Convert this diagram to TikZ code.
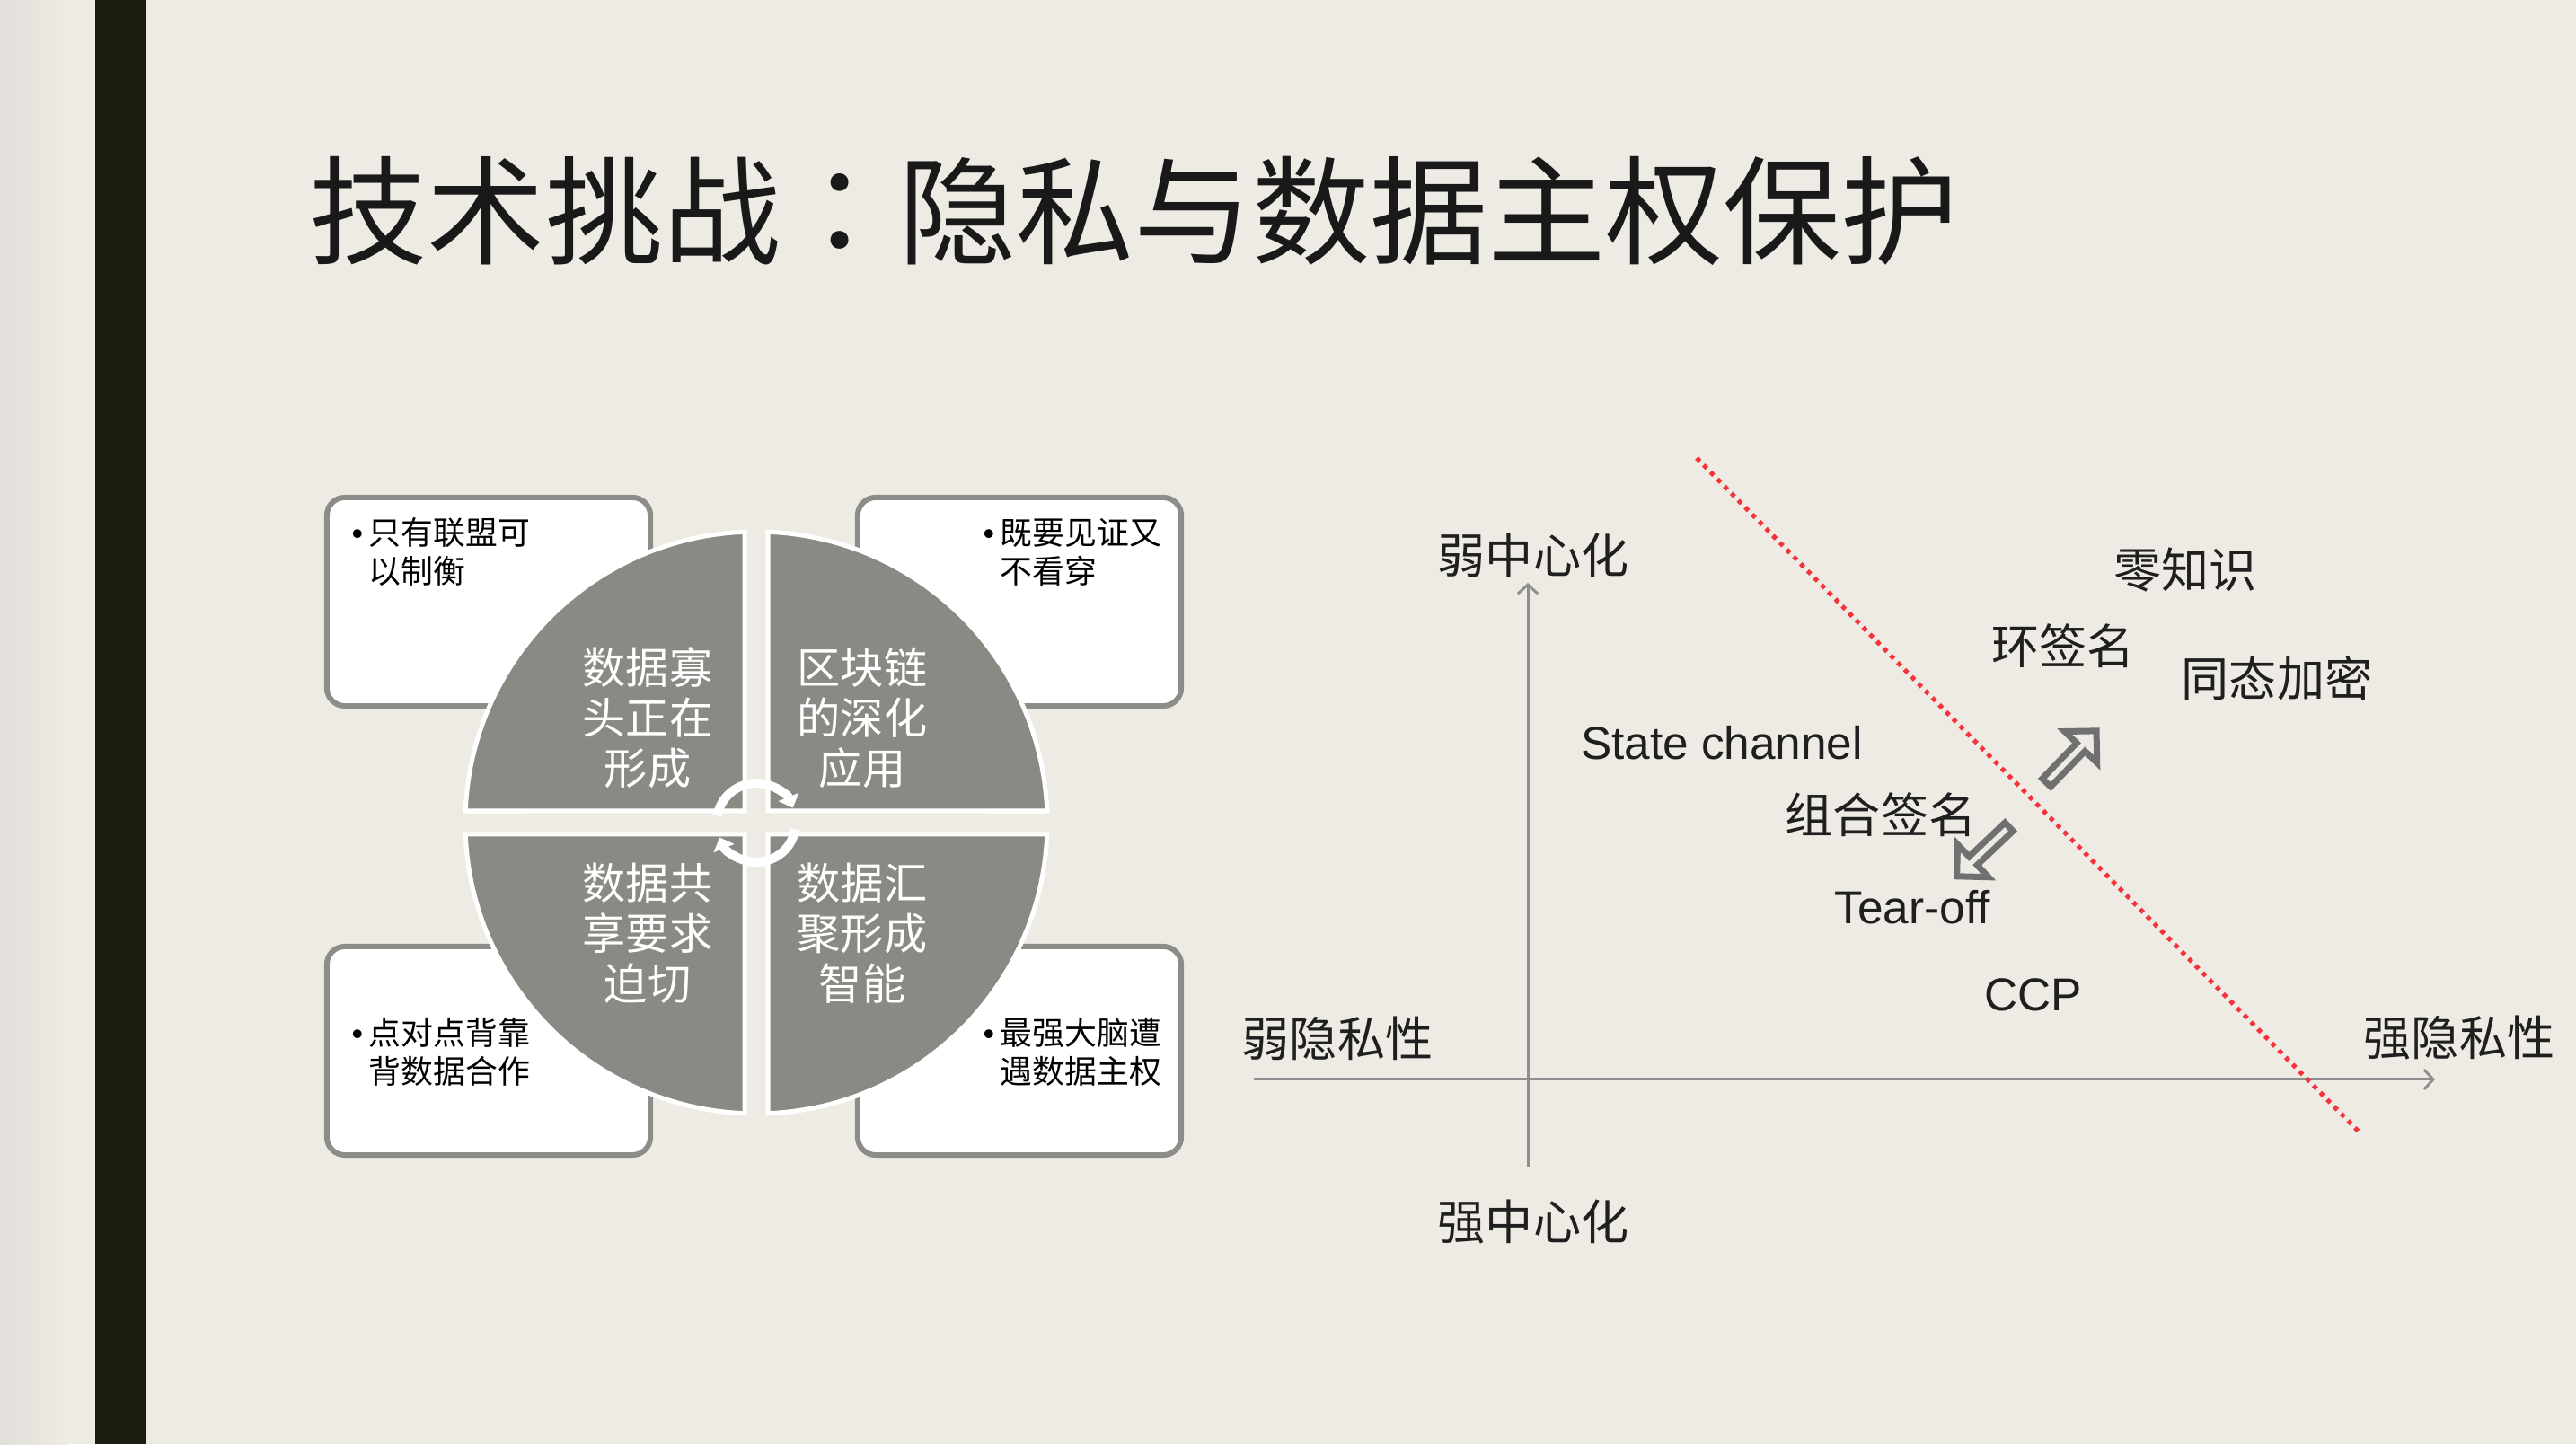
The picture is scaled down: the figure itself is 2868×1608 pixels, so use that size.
\documentclass[tikz,border=0pt]{standalone}
\usepackage{fontspec}
\setmainfont{Liberation Sans}
\newfontfamily\cjk{Noto Sans CJK SC}
\newfontfamily\cjkmid{Noto Sans CJK TC}
\usetikzlibrary{arrows.meta,shapes.arrows}
\definecolor{slidebg}{HTML}{EEEBE4}
\definecolor{edgeshade}{HTML}{E1DFD9}
\definecolor{barblack}{HTML}{1B1C10}
\definecolor{quadgray}{HTML}{8A8A85}
\definecolor{boxgray}{HTML}{8C8C88}
\definecolor{axisgray}{HTML}{8F8F8F}
\definecolor{arrowgray}{HTML}{707070}
\definecolor{dotred}{HTML}{F4333B}
\newcommand{\noteitem}[2]{\begin{tabular}[t]{@{}l@{}l@{}}\makebox[0.19cm][l]{\rmfamily\textbullet}&#1\\&#2\end{tabular}}
\tikzset{
  notebox/.style={draw=boxgray, fill=white, line width=0.06cm, rounded corners=0.2cm,
    minimum width=3.6cm, minimum height=2.32cm, inner sep=0pt},
  quad/.style={fill=quadgray, draw=white, line width=0.05cm},
  quadtext/.style={text=white, align=center, inner sep=0pt, font=\cjk\fontsize{13.7}{15.9}\selectfont},
  notetext/.style={anchor=base west, inner sep=0pt, font=\cjk\fontsize{10.2}{11.4}\selectfont},
  cyclearrow/.style={draw=white, line width=0.1cm, -{Triangle[length=0.13cm,width=0.24cm]}},
  axis/.style={draw=axisgray, line width=0.03cm, -{Straight Barb[length=0.1cm,width=0.22cm]}},
  axislabel/.style={inner sep=0pt, text=black!88, font=\cjk\fontsize{15.1}{17}\selectfont},
  method/.style={inner sep=0pt, text=black!88, font=\fontsize{14.6}{17}\selectfont},
  hollow/.style={single arrow, draw=arrowgray, fill=slidebg, line width=0.07cm,
    minimum height=0.8cm, minimum width=0.5cm, single arrow head extend=0.1cm, inner sep=0pt},
}
\begin{document}
\begin{tikzpicture}[x=0.01cm,y=0.01cm]
  \fill[slidebg] (0,0) rectangle (2868,1608);
  \useasboundingbox (0,0) rectangle (2868,1608);
  \shade[left color=edgeshade, right color=slidebg] (0,0) rectangle (75,1608);
  \fill[barblack] (106,0) rectangle (162,1608);
  \node[anchor=west, inner sep=0pt, text=black!90, font=\cjk\fontsize{37.3}{40}\selectfont] (title) at (344,1373) {技术挑战{\cjkmid ：}隐私与数据主权保护};

  % four notes behind the wheel
  \node[notebox] (tlbox) at (544,938) {};
  \node[notebox] (trbox) at (1135,938) {};
  \node[notebox] (blbox) at (544,438) {};
  \node[notebox] (brbox) at (1135,438) {};
  \node[notetext] (tlnote) at (391,1001) {\noteitem{只有联盟可}{以制衡}};
  \node[notetext] (trnote) at (1094,1001) {\noteitem{既要见证又}{不看穿}};
  \node[notetext] (blnote) at (391,444) {\noteitem{点对点背靠}{背数据合作}};
  \node[notetext] (brnote) at (1094,444) {\noteitem{最强大脑遭}{遇数据主权}};

  % the wheel
  \coordinate (hub) at (842,692);
  \foreach \a/\dx/\dy in {0/1/1, 90/-1/1, 180/-1/-1, 270/1/-1}
    \filldraw[quad] ([shift={(\dx*13,\dy*13)}]hub) -- ([shift={(\a+2.3:324)}]hub)
      arc[start angle=\a+2.3, end angle=\a+87.7, radius=324] -- cycle;
  \draw[cyclearrow] ([shift={(170:44)}]hub) arc[start angle=170, end angle=22, radius=44];
  \draw[cyclearrow] ([shift={(-10:44)}]hub) arc[start angle=-10, end angle=-158, radius=44];
  \node[quadtext] (tlquad) at (721,809) {数据寡\\头正在\\形成};
  \node[quadtext] (trquad) at (960,809) {区块链\\的深化\\应用};
  \node[quadtext] (blquad) at (721,569) {数据共\\享要求\\迫切};
  \node[quadtext] (brquad) at (960,569) {数据汇\\聚形成\\智能};

  % privacy / centralisation plane
  \coordinate (xfrom) at (1396,406);
  \coordinate (xto) at (2711,406);
  \coordinate (yfrom) at (1701,308);
  \coordinate (yto) at (1701,959);
  \draw[axis] (xfrom) -- (xto);
  \draw[axis] (yfrom) -- (yto);
  \coordinate (cutfrom) at (1889,1098);
  \coordinate (cutto) at (2628,346);
  \draw[dotred, line width=0.05cm, dash pattern=on 0.05cm off 0.06cm] (cutfrom) -- (cutto);
  \node[axislabel] (weakcen) at (1707,990) {弱中心化};
  \node[axislabel] (strongcen) at (1707,247) {强中心化};
  \node[axislabel] (weakpriv) at (1489,452) {弱隐私性};
  \node[axislabel] (strongpriv) at (2738,452) {强隐私性};
  \node[axislabel] (zk) at (2433,973) {零知识};
  \node[axislabel] (ring) at (2297,889) {环签名};
  \node[axislabel] (homo) at (2535,853) {同态加密};
  \node[method] (state) at (1917,781) {State channel};
  \node[axislabel] (combo) at (2094,701) {组合签名};
  \node[method] (tear) at (2129,598) {Tear-off};
  \node[method] (ccp) at (2264,500) {CCP};
  \node[hollow, rotate=46] (upmove) at (2304,763) {};
  \node[hollow, rotate=223.5] (downmove) at (2210,662) {};
\end{tikzpicture}
\end{document}
